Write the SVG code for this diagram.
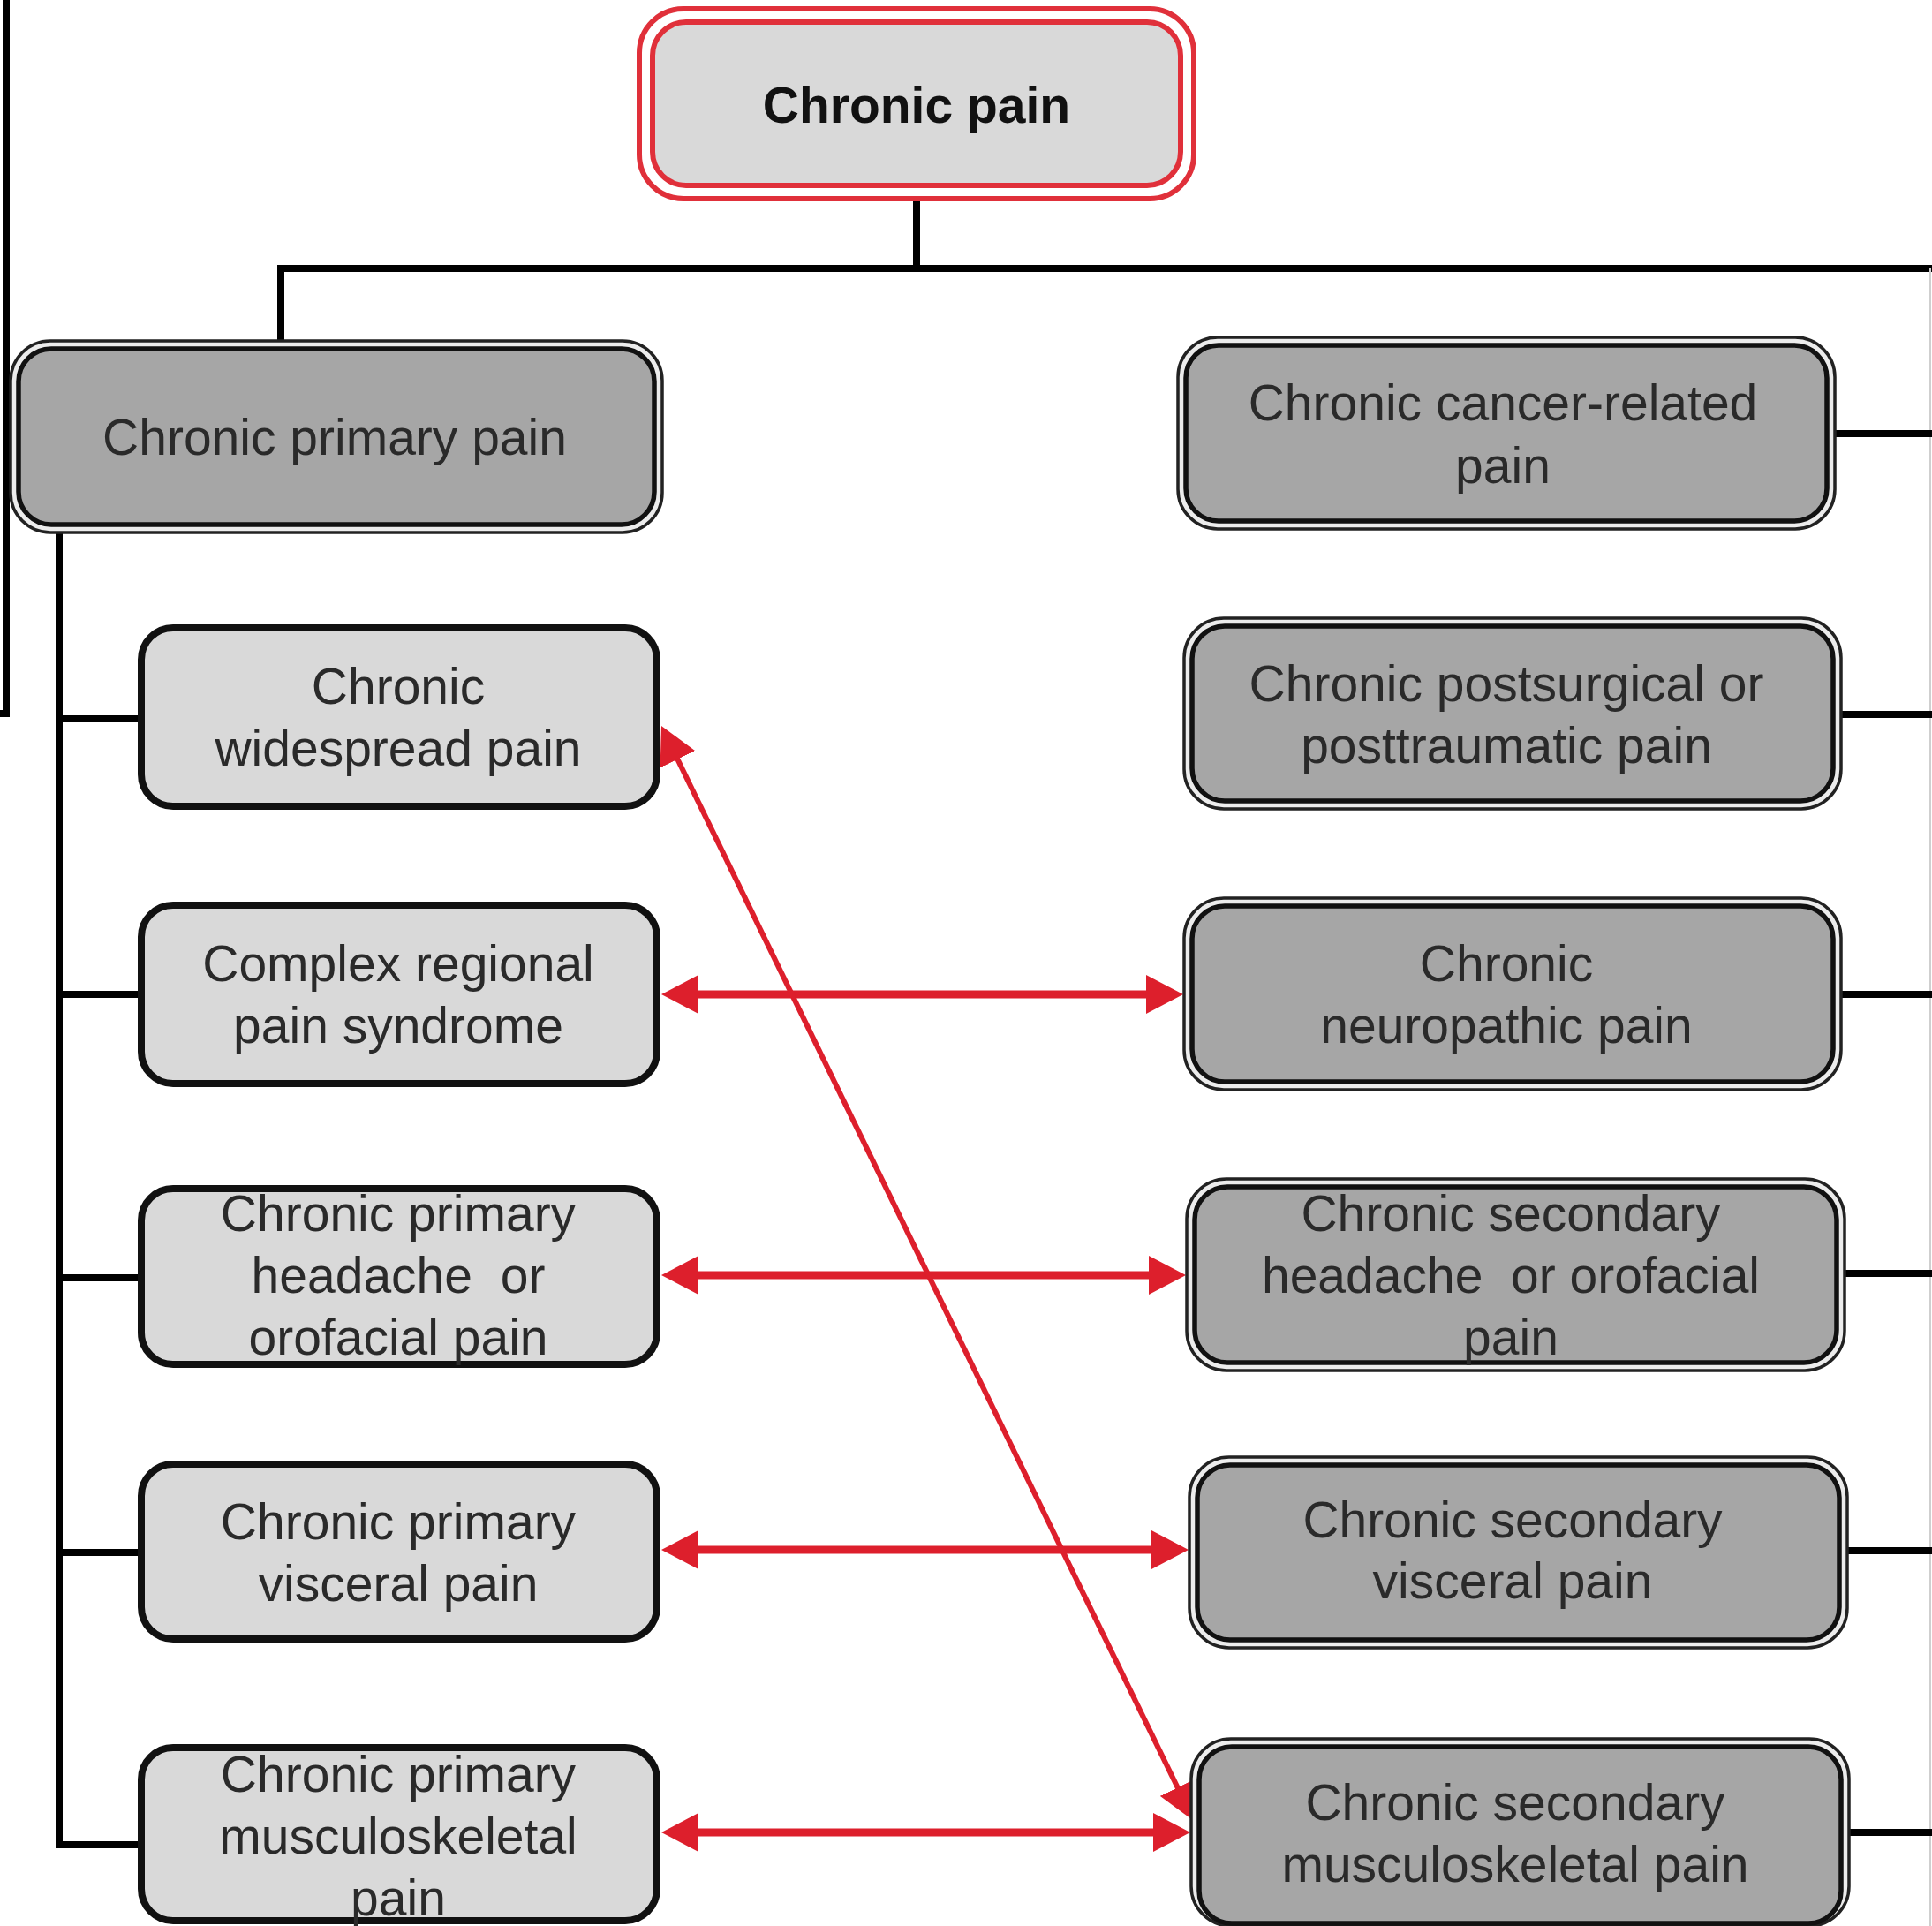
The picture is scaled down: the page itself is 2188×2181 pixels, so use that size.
<svg xmlns="http://www.w3.org/2000/svg" width="2188" height="2181" viewBox="0 0 2188 2181">
<defs>
<style>
.t{font-family:"Liberation Sans",Arial,sans-serif;font-size:57px;fill:#2a2a2a;text-anchor:middle}
.tb{font-family:"Liberation Sans",Arial,sans-serif;font-size:57px;font-weight:bold;fill:#111;text-anchor:middle}
.lite{fill:#d9d9d9;stroke:#111;stroke-width:8}
.dkout{fill:#ececec;stroke:#222;stroke-width:3.5}
.dkin{fill:#a6a6a6;stroke:#111;stroke-width:5.5}
.conn{fill:none;stroke:#000;stroke-width:8}
.rarrow{fill:none;stroke:#dd1f2c;stroke-width:9}
.rdiag{fill:none;stroke:#dd1f2c;stroke-width:6}
</style>
<marker id="ah" markerUnits="userSpaceOnUse" viewBox="0 0 42 44" refX="2" refY="22" markerWidth="42" markerHeight="44" orient="auto-start-reverse">
<path d="M0,0 L42,22 L0,44 z" fill="#dd1f2c"/>
</marker>
</defs>
<rect width="2188" height="2181" fill="#fff"/>

<g id="connectors">
<path class="conn" d="M7,0 V808 H0"/>
<path class="conn" d="M1038,225 V304"/>
<path class="conn" d="M318,390 V304 H2188"/>
<line x1="2186" y1="304" x2="2186" y2="2181" stroke="#cfcfcf" stroke-width="2"/>
<path class="conn" d="M67,600 V2089 H160"/>
<path class="conn" d="M67,814 H160 M67,1126 H160 M67,1447 H160 M67,1758 H160"/>
<path class="conn" d="M2077,491 H2188 M2084,809 H2188 M2084,1126 H2188 M2088,1442 H2188 M2090,1756 H2188 M2092,2075 H2188"/>
<g id="red-links">
<line class="rarrow" x1="789" y1="1126" x2="1300" y2="1126" marker-start="url(#ah)" marker-end="url(#ah)"/>
<line class="rarrow" x1="789" y1="1444" x2="1303" y2="1444" marker-start="url(#ah)" marker-end="url(#ah)"/>
<line class="rarrow" x1="789" y1="1755" x2="1306" y2="1755" marker-start="url(#ah)" marker-end="url(#ah)"/>
<line class="rarrow" x1="789" y1="2075" x2="1308" y2="2075" marker-start="url(#ah)" marker-end="url(#ah)"/>
<line class="rdiag" x1="766.5" y1="858" x2="1334.5" y2="2026" marker-start="url(#ah)" marker-end="url(#ah)"/>
</g>
</g>

<g id="n-chronic-pain">
<rect x="724" y="10" width="628" height="215" rx="50" fill="#fff" stroke="#e0303a" stroke-width="6"/>
<rect x="739" y="25" width="598" height="185" rx="38" fill="#d9d9d9" stroke="#e0303a" stroke-width="6"/>
<text class="tb" x="1038" y="139">Chronic pain</text>
</g>

<g id="n-primary">
<rect class="dkout" x="12" y="386" width="738" height="217" rx="45"/>
<rect class="dkin" x="21" y="395" width="720" height="199" rx="37"/>
<text class="t" x="379" y="515">Chronic primary pain</text>
</g>

<g id="n-widespread">
<rect class="lite" x="160" y="711" width="584" height="202" rx="36"/>
<text class="t" x="451" y="797">Chronic</text>
<text class="t" x="451" y="867">widespread pain</text>
</g>
<g id="n-crps">
<rect class="lite" x="160" y="1025" width="584" height="202" rx="36"/>
<text class="t" x="451" y="1111">Complex regional</text>
<text class="t" x="451" y="1181">pain syndrome</text>
</g>
<g id="n-primary-headache">
<rect class="lite" x="160" y="1346" width="584" height="199" rx="36"/>
<text class="t" x="451" y="1394">Chronic primary</text>
<text class="t" x="451" y="1464" xml:space="preserve">headache  or</text>
<text class="t" x="451" y="1534">orofacial pain</text>
</g>
<g id="n-primary-visceral">
<rect class="lite" x="160" y="1658" width="584" height="198" rx="36"/>
<text class="t" x="451" y="1743">Chronic primary</text>
<text class="t" x="451" y="1813">visceral pain</text>
</g>
<g id="n-primary-msk">
<rect class="lite" x="160" y="1979" width="584" height="196" rx="36"/>
<text class="t" x="451" y="2029">Chronic primary</text>
<text class="t" x="451" y="2099">musculoskeletal</text>
<text class="t" x="451" y="2169">pain</text>
</g>

<g id="n-cancer">
<rect class="dkout" x="1334" y="382" width="744" height="217" rx="45"/>
<rect class="dkin" x="1343" y="391" width="726" height="199" rx="37"/>
<text class="t" x="1702" y="476">Chronic cancer-related</text>
<text class="t" x="1702" y="547">pain</text>
</g>
<g id="n-postsurgical">
<rect class="dkout" x="1341" y="700" width="744" height="216" rx="45"/>
<rect class="dkin" x="1350" y="709" width="726" height="198" rx="37"/>
<text class="t" x="1706" y="794">Chronic postsurgical or</text>
<text class="t" x="1706" y="864">posttraumatic pain</text>
</g>
<g id="n-neuropathic">
<rect class="dkout" x="1341" y="1017" width="744" height="217" rx="45"/>
<rect class="dkin" x="1350" y="1026" width="726" height="199" rx="37"/>
<text class="t" x="1706" y="1111">Chronic</text>
<text class="t" x="1706" y="1181">neuropathic pain</text>
</g>
<g id="n-secondary-headache">
<rect class="dkout" x="1344" y="1335" width="745" height="217" rx="45"/>
<rect class="dkin" x="1353" y="1344" width="727" height="199" rx="37"/>
<text class="t" x="1711" y="1394">Chronic secondary</text>
<text class="t" x="1711" y="1464" xml:space="preserve">headache  or orofacial</text>
<text class="t" x="1711" y="1534">pain</text>
</g>
<g id="n-secondary-visceral">
<rect class="dkout" x="1347" y="1650" width="745" height="216" rx="45"/>
<rect class="dkin" x="1356" y="1659" width="727" height="198" rx="37"/>
<text class="t" x="1713" y="1741">Chronic secondary</text>
<text class="t" x="1713" y="1810">visceral pain</text>
</g>
<g id="n-secondary-msk">
<rect class="dkout" x="1349" y="1969" width="745" height="212" rx="45"/>
<rect class="dkin" x="1358" y="1978" width="727" height="200" rx="37"/>
<text class="t" x="1716" y="2061">Chronic secondary</text>
<text class="t" x="1716" y="2131">musculoskeletal pain</text>
</g>
</svg>
